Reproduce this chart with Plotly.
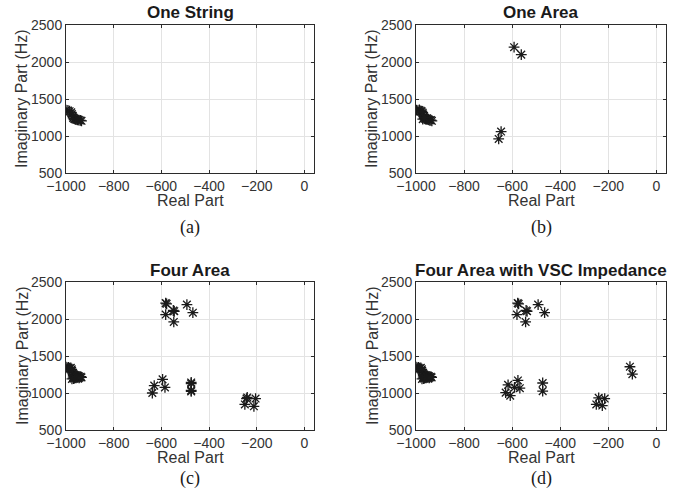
import plotly.graph_objects as go

# ---- data (real part, imaginary part in Hz) ----
titles = ["One String", "One Area", "Four Area", "Four Area with VSC Impedance"]
captions = ["(a)", "(b)", "(c)", "(d)"]
x_title = "Real Part"
y_title = "Imaginary Part (Hz)"

a_re = [-1000, -992, -985, -978, -975, -972, -970, -966, -962, -958, -952, -946, -940, -935]
a_im = [1350, 1345, 1335, 1320, 1295, 1265, 1245, 1235, 1228, 1222, 1218, 1214, 1210, 1205]

b_re = [-998, -992, -986, -980, -976, -972, -970, -968, -966, -962, -958, -955, -950, -946, -942, -938, -934, -972, -964,
        -592, -562, -646, -656]
b_im = [1350, 1342, 1352, 1340, 1332, 1315, 1290, 1262, 1240, 1232, 1226, 1240, 1222, 1218, 1212, 1215, 1205, 1228, 1248,
        2200, 2100, 1060, 960]

c_re = [-1000, -995, -990, -985, -980, -976, -975, -972, -970, -970, -968, -966, -962, -960, -958, -955, -952, -950, -946,
        -942, -938, -935, -975, -965, -955, -945,
        -582, -578, -582, -550, -546, -548, -493, -468,
        -630, -638, -595, -585, -475, -475, -475, -475,
        -240, -243, -250, -205, -212]
c_im = [1350, 1340, 1345, 1335, 1340, 1320, 1300, 1270, 1250, 1215, 1195, 1235, 1225, 1240, 1205, 1220, 1230, 1210, 1225,
        1215, 1220, 1210, 1190, 1200, 1215, 1205,
        2215, 2205, 2060, 2115, 2105, 1960, 2195, 2085,
        1100, 1000, 1185, 1075, 1142, 1128, 1035, 1022,
        940, 925, 845, 925, 820]

d_re = [-1000, -995, -990, -985, -980, -976, -975, -972, -970, -970, -968, -966, -962, -960, -958, -955, -952, -950, -946,
        -942, -938, -935, -975, -965, -955, -945,
        -577, -573, -580, -542, -538, -544, -492, -465,
        -617, -627, -608, -576, -590, -568, -473, -473,
        -240, -250, -215, -225, -110, -100]
d_im = [1350, 1340, 1345, 1335, 1340, 1320, 1300, 1270, 1250, 1215, 1195, 1235, 1225, 1240, 1205, 1220, 1230, 1210, 1225,
        1215, 1220, 1210, 1190, 1200, 1215, 1205,
        2215, 2205, 2060, 2115, 2105, 1960, 2195, 2085,
        1110, 1005, 965, 1170, 1075, 1065, 1135, 1025,
        935, 845, 925, 830, 1355, 1255]

series = [(a_re, a_im), (b_re, b_im), (c_re, c_im), (d_re, d_im)]

x_ticks = [-1000, -800, -600, -400, -200, 0]
y_ticks = [500, 1000, 1500, 2000, 2500]

W, H = 697, 492
# panel boxes in pixels: (left, right, top, bottom)
boxes = [(66, 314, 25, 173), (416, 666, 25, 173), (66, 314, 282, 430), (416, 666, 282, 430)]
xtitle_y = [200, 200, 457, 457]
caption_y = [227, 227, 478, 478]

fig = go.Figure()
tick_font = dict(family="Liberation Sans, Arial, sans-serif", size=14, color="#333333")
title_font = dict(family="Liberation Sans, Arial, sans-serif", size=16, color="#333333")

for i, ((re, im), (l, r, t, b)) in enumerate(zip(series, boxes)):
    k = "" if i == 0 else str(i + 1)
    fig.add_trace(go.Scatter(
        x=re, y=im, mode="markers", xaxis="x" + k, yaxis="y" + k, showlegend=False,
        marker=dict(symbol="asterisk-open", size=9, color="#1a1a1a",
                    line=dict(width=1.3, color="#1a1a1a")),
    ))
    axcommon = dict(showgrid=True, gridcolor="#e3e3e3", gridwidth=1, zeroline=False,
                    showline=True, linecolor="#2b2b2b", linewidth=1, mirror="ticks",
                    ticks="inside", ticklen=3, tickcolor="#2b2b2b", tickfont=tick_font,
                    automargin=False)
    fig.layout["xaxis" + k] = dict(
        domain=[l / W, r / W], range=[-1000, 40], tickvals=x_ticks, anchor="y" + k, **axcommon)
    fig.layout["yaxis" + k] = dict(
        domain=[1 - b / H, 1 - t / H], range=[500, 2500], tickvals=y_ticks, anchor="x" + k, **axcommon)
    cx = (l + r) / 2 / W
    fig.add_annotation(text="<b>" + titles[i] + "</b>", x=cx, y=1 - (t - 12) / H,
                       xref="paper", yref="paper", showarrow=False, xanchor="center", yanchor="middle",
                       font=dict(family="Liberation Sans, Arial, sans-serif", size=17, color="#1a1a1a"))
    fig.add_annotation(text=x_title, x=cx, y=1 - xtitle_y[i] / H,
                       xref="paper", yref="paper", showarrow=False, xanchor="center", yanchor="middle",
                       font=title_font)
    fig.add_annotation(text=y_title, x=(l - 44) / W, y=1 - (t + b) / 2 / H, textangle=-90,
                       xref="paper", yref="paper", showarrow=False, xanchor="center", yanchor="middle",
                       font=title_font)
    fig.add_annotation(text=captions[i], x=cx, y=1 - caption_y[i] / H,
                       xref="paper", yref="paper", showarrow=False, xanchor="center", yanchor="middle",
                       font=dict(family="Liberation Serif, Times New Roman, serif", size=18, color="#1a1a1a"))

fig.update_layout(width=W, height=H, margin=dict(l=0, r=0, t=0, b=0),
                  paper_bgcolor="white", plot_bgcolor="white")
fig.write_html("out.html")
